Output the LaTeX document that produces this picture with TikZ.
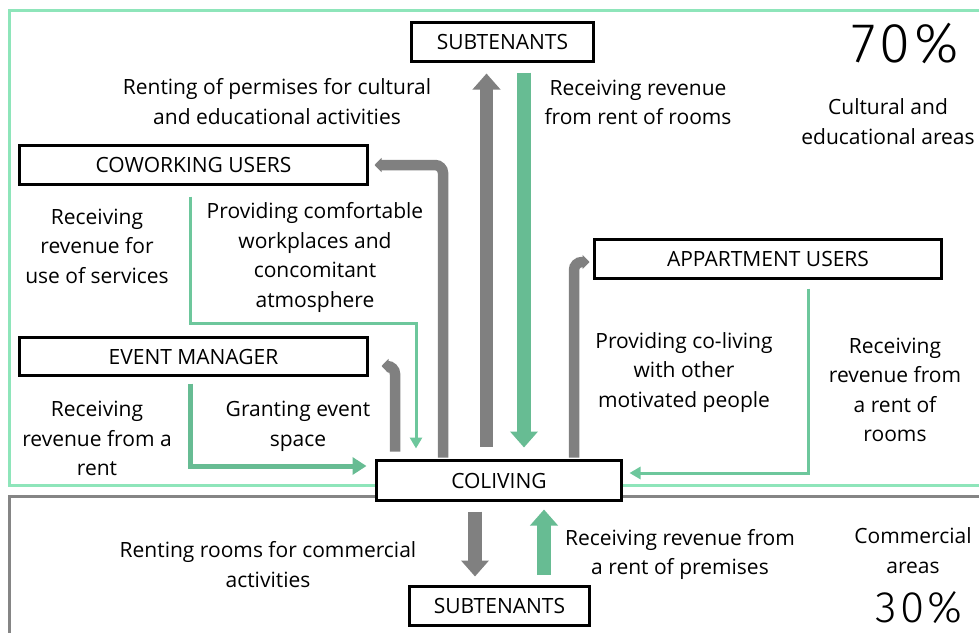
\documentclass[tikz,border=0pt]{standalone}
\usepackage{fontspec}
\setmainfont{Open Sans}
\IfFontExistsTF{Fira Sans Light}{\newfontfamily\lightfont[LetterSpace=8]{Fira Sans Light}}{%
  \IfFontExistsTF{Lato Light}{\newfontfamily\lightfont[LetterSpace=8]{Lato Light}}{\newfontfamily\lightfont[LetterSpace=8]{Open Sans}}}
\usetikzlibrary{arrows.meta}
\definecolor{framegreen}{HTML}{8EE5BA}
\definecolor{arrowgreen}{HTML}{67BC93}
\definecolor{thingreen}{HTML}{6DC79C}
\definecolor{arrowgray}{HTML}{808080}
\definecolor{framegray}{HTML}{858585}
\newcommand\lblfont{\fontsize{21}{29.5}\selectfont}
\newcommand\boxfont{\fontsize{21}{24}\selectfont}
\tikzset{
  box/.style={draw=black, line width=3pt, fill=white, inner sep=0pt, font=\boxfont},
  lbl/.style={align=center, font=\lblfont, inner sep=0pt},
  frameline/.style={line width=3pt},
  bigarrow/.style={line width=13.5pt, -{Triangle[width=27pt,length=16pt]}},
  hookarrow/.style={draw=arrowgray, line width=10.5pt, rounded corners=8pt, -{Triangle[width=14pt,length=7pt]}},
  thinarrow/.style={draw=thingreen, line width=3pt, -{Triangle[width=12pt,length=11pt]}},
}
\begin{document}
\begin{tikzpicture}[x=1pt,y=-1pt]
\useasboundingbox (0,0) rectangle (979,632);
% frames
\draw[framegreen, frameline] (979,10) -- (9,10) -- (9,485) -- (979,485);
\draw[framegray, frameline] (979,496) -- (9,496) -- (9,640);
% nodes
\node[box, minimum width=182pt, minimum height=39pt] (sub1) at (502.5,42) {SUBTENANTS};
\node[box, minimum width=348pt, minimum height=39pt] (cowork) at (193.5,165) {COWORKING USERS};
\node[box, minimum width=348pt, minimum height=38pt] (event) at (193.5,356.5) {EVENT MANAGER};
\node[box, minimum width=347pt, minimum height=39pt] (appt) at (768,259) {APPARTMENT USERS};
\node[box, minimum width=245pt, minimum height=40pt] (coliving) at (499,480.5) {COLIVING};
\node[box, minimum width=180pt, minimum height=39pt] (sub2) at (499.5,606) {SUBTENANTS};
% labels
\node[lbl] (t1) at (277,101.5) {Renting of permises for cultural\\and educational activities};
\node[lbl] (t2) at (638,102.5) {Receiving revenue\\from rent of rooms};
\node[lbl] (t3) at (888,121.5) {Cultural and\\educational areas};
\node[lbl] (t4) at (97,246) {Receiving\\revenue for\\use of services};
\node[lbl] (t5) at (315,257.5) {Providing comfortable\\workplaces and\\concomitant\\atmosphere};
\node[lbl] (t6) at (684,372.5) {Providing co-living\\with other\\motivated people};
\node[lbl] (t7) at (895,390) {Receiving\\revenue from\\a rent of\\rooms};
\node[lbl] (t8) at (97,438.5) {Receiving\\revenue from a\\rent};
\node[lbl] (t9) at (298,426.5) {Granting event\\space};
\node[lbl] (t10) at (268,564.5) {Renting rooms for commercial\\activities};
\node[lbl] (t11) at (680,554.5) {Receiving revenue from\\a rent of premises};
\node[lbl] (t12) at (913,550.5) {Commercial\\areas};
\node[anchor=base, inner sep=0pt, font=\lightfont\fontsize{56}{60}\selectfont] (p70) at (905,62) {70\%};
\node[anchor=base, inner sep=0pt, font=\lightfont\fontsize{44}{48}\selectfont] (p30) at (919,622) {30\%};
% helper coordinates
\coordinate (xcw) at (443,0);
\coordinate (xsu) at (486.5,0);
\coordinate (xsd) at (524,0);
\coordinate (xev) at (395,0);
\coordinate (xap) at (574,0);
\coordinate (xta) at (190,0);
\coordinate (xtb) at (416,0);
\coordinate (xapd) at (808,0);
\coordinate (xbd) at (475,0);
\coordinate (xbu) at (544,0);
\coordinate (yth) at (0,323);
\coordinate (yevg) at (0,466);
\coordinate (yapg) at (0,473);
\coordinate (yevh) at (0,366);
\coordinate (yaph) at (0,262);
% gray arrows
\draw[hookarrow, shorten <=1.5pt, shorten >=5.5pt] (coliving.north -| xcw) -- (xcw |- cowork.east) -- (cowork.east);
\draw[hookarrow, shorten <=7.5pt, shorten >=12.5pt] (coliving.north -| xev) -- (xev |- yevh) -- (event.east |- yevh);
\draw[hookarrow, shorten <=1.5pt, shorten >=3.5pt] (coliving.north -| xap) -- (xap |- yaph) -- (appt.west |- yaph);
\draw[arrowgray, bigarrow, line width=13pt, shorten <=12.5pt, shorten >=10.5pt] (coliving.north -| xsu) -- (sub1.south -| xsu);
\draw[arrowgreen, bigarrow, line width=14pt, shorten <=9.5pt, shorten >=11.5pt] (sub1.south -| xsd) -- (coliving.north -| xsd);
\draw[arrowgray, bigarrow, line width=14pt, shorten <=9.5pt, shorten >=8.5pt] (coliving.south -| xbd) -- (sub2.north -| xbd);
\draw[arrowgreen, bigarrow, line width=14pt, shorten <=10.5pt, shorten >=7.5pt] (sub2.north -| xbu) -- (coliving.south -| xbu);
% green thin arrows
\draw[thinarrow, shorten <=10.5pt, shorten >=10.5pt] (cowork.south -| xta) -- (xta |- yth) -- (xtb |- yth) -- (coliving.north -| xtb);
\draw[thinarrow, draw=arrowgreen, line width=5pt, -{Triangle[width=17pt,length=14pt]}, shorten <=6.5pt, shorten >=8.5pt] (event.south -| xta) -- (xta |- yevg) -- (coliving.west |- yevg);
\draw[thinarrow, shorten <=8.5pt, shorten >=6.5pt] (appt.south -| xapd) -- (xapd |- yapg) -- (coliving.east |- yapg);
\end{tikzpicture}
\end{document}
